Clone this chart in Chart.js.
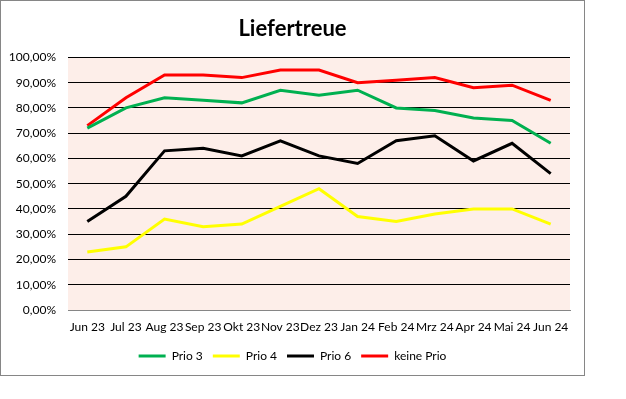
<!DOCTYPE html>
<html>
<head>
<meta charset="utf-8">
<script src="https://cdn.jsdelivr.net/npm/chart.js@4/dist/chart.umd.min.js"></script>
<style>
  body { margin: 0; background: #fff; }
  #box { position: absolute; left: 0; top: 0; width: 583px; height: 374px; border: 1px solid #868686; }
</style>
</head>
<body>
<div id="box"><canvas id="lieferChart" width="583" height="374"></canvas></div>
<script>
const months = ["Jun 23", "Jul 23", "Aug 23", "Sep 23", "Okt 23", "Nov 23", "Dez 23",
  "Jan 24", "Feb 24", "Mrz 24", "Apr 24", "Mai 24", "Jun 24"];
const prio3 = [72, 80, 84, 83, 82, 87, 85, 87, 80, 79, 76, 75, 66];
const prio4 = [23, 25, 36, 33, 34, 41, 48, 37, 35, 38, 40, 40, 34];
const prio6 = [35, 45, 63, 64, 61, 67, 61, 58, 67, 69, 59, 66, 54];
const keinePrio = [73, 84, 93, 93, 92, 95, 95, 90, 91, 92, 88, 89, 83];
const yTicks = [0, 10, 20, 30, 40, 50, 60, 70, 80, 90, 100];

document.addEventListener("DOMContentLoaded", () => {
  const font = "Lato, 'Open Sans', sans-serif";

  // pink plot background
  const plotBg = {
    id: "plotBg",
    beforeDraw(chart) {
      const { ctx, chartArea: a } = chart;
      ctx.save();
      ctx.fillStyle = "#FDEEE9";
      ctx.fillRect(a.left, a.top, a.right - a.left, a.bottom - a.top);
      ctx.restore();
    },
  };

  const line = (label, data, color) => ({
    label: label,
    data: data,
    borderColor: color,
    backgroundColor: color,
    borderWidth: 3,
    pointRadius: 0,
    tension: 0,
  });

  const ctx = document.getElementById("lieferChart").getContext("2d");
  new Chart(ctx, {
    type: "line",
    data: {
      labels: months,
      datasets: [
        line("Prio 3", prio3, "#00B050"),
        line("Prio 4", prio4, "#FFFF00"),
        line("Prio 6", prio6, "#000000"),
        line("keine Prio", keinePrio, "#FF0000"),
      ],
    },
    plugins: [plotBg],
    options: {
      responsive: false,
      animation: false,
      layout: { padding: { left: 0, right: 0, top: 0, bottom: 3 } },
      plugins: {
        title: {
          display: true,
          text: "Liefertreue",
          color: "#000",
          font: { family: font, size: 22, weight: "bold" },
          padding: { top: 15, bottom: 15 },
        },
        legend: {
          position: "bottom",
          labels: {
            color: "#000",
            font: { family: font, size: 12 },
            usePointStyle: true,
            pointStyle: "line",
            pointStyleWidth: 27,
            boxHeight: 12,
            padding: 10,
          },
        },
        tooltip: { enabled: false },
      },
      scales: {
        x: {
          offset: true,
          afterFit(scale) { scale.height = 30; },
          grid: { display: false, drawTicks: false },
          border: { color: "#868686", width: 1 },
          ticks: {
            color: "#000",
            font: { family: font, size: 12 },
            autoSkip: false,
            maxRotation: 0,
            padding: 10,
          },
        },
        y: {
          min: 0,
          max: 100,
          afterFit(scale) { scale.width = 67; },
          afterBuildTicks(scale) { scale.ticks = yTicks.map((v) => ({ value: v })); },
          grid: {
            drawTicks: false,
            color: (c) => (c.tick && c.tick.value === 0 ? "#868686" : "#000"),
          },
          border: { display: false },
          ticks: {
            color: "#000",
            font: { family: font, size: 12 },
            padding: 12,
            callback: (v) => v.toFixed(2).replace(".", ",") + "%",
          },
        },
        // empty right margin so the legend stays centred on the whole box
        yRight: {
          position: "right",
          afterFit(scale) { scale.width = 14; },
          grid: { display: false, drawTicks: false },
          border: { display: false },
          ticks: { display: false },
        },
      },
    },
  });
});
</script>
</body>
</html>
